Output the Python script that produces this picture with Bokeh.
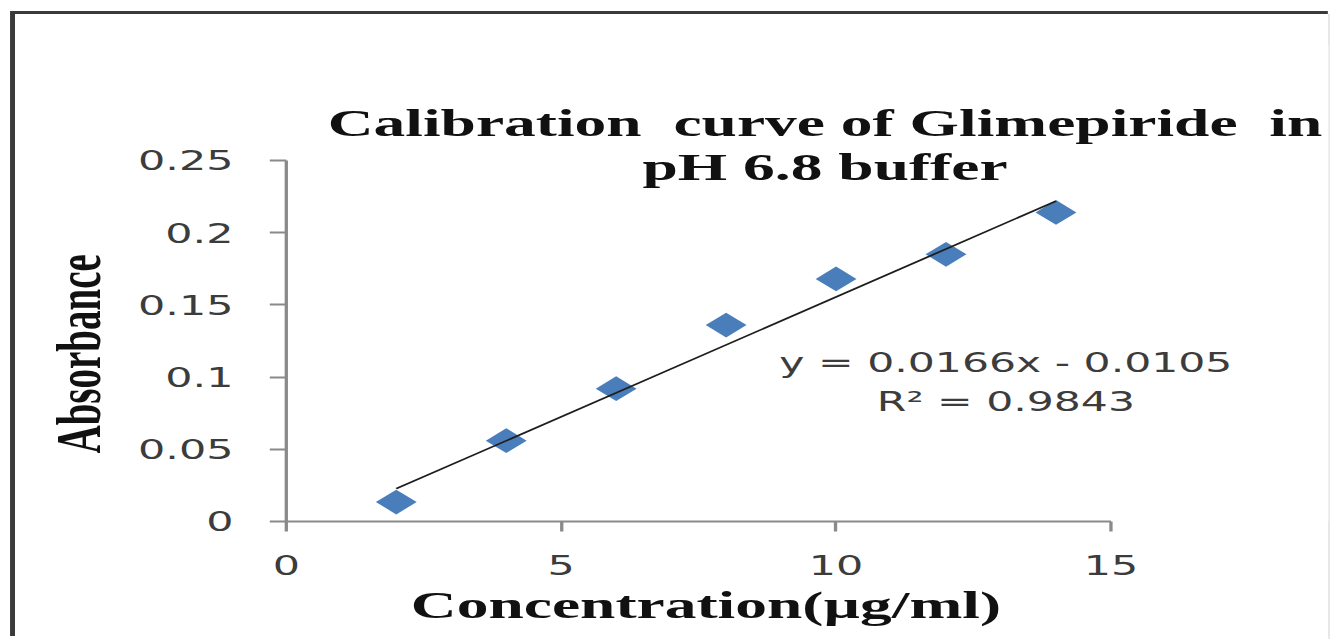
import math

from bokeh.embed import file_html
from bokeh.models import FixedTicker, InlineStyleSheet, Label, Range1d, Title
from bokeh.plotting import figure
from bokeh.resources import INLINE

# Calibration data: concentration (µg/ml) vs. measured absorbance
concentration = [2, 4, 6, 8, 10, 12, 14]
absorbance = [0.0135, 0.056, 0.092, 0.136, 0.168, 0.185, 0.214]

# Least-squares trendline as reported on the chart
slope = 0.0166
intercept = -0.0105
r_squared = 0.9843

x_ticks = [0, 5, 10, 15]
y_ticks = [0, 0.05, 0.1, 0.15, 0.2, 0.25]
y_tick_labels = ["0", "0.05", "0.1", "0.15", "0.2", "0.25"]
x_axis_span = (0, 15)
y_axis_span = (0, 0.25)

title_lines = ["Calibration\u00a0 curve of Glimepiride\u00a0 in", "pH 6.8 buffer"]
x_title = "Concentration(µg/ml)"
y_title = "Absorbance"

# The drawing surface is laid out narrow and widened horizontally
STRETCH = 1.6493
W, H = 796, 625
BORDER_L, BORDER_R, BORDER_T, BORDER_B = 164, 0, 30, 118
AXIS_W_PX, AXIS_H_PX = 500, 361  # pixel length of the drawn axes

SERIF = "Liberation Serif"
SANS = "DejaVu Sans"
AXIS_GREY = "#8a8a8a"
INK = "#111111"
TEXT_GREY = "#3c3c3c"
FRAME = "#3a3a3a"

# Ranges reach past the axes so the title and equation share the plot area
x_end = x_axis_span[1] * (W - BORDER_L - BORDER_R) / AXIS_W_PX
y_end = y_axis_span[1] * (H - BORDER_T - BORDER_B) / AXIS_H_PX

widen = InlineStyleSheet(
    css=(
        ".bk-Canvas {"
        f" transform: scaleX({STRETCH}); transform-origin: 0 0;"
        f" box-shadow: -3px -3px 0 0 {FRAME}, 0 -3px 0 0 {FRAME},"
        " 1px 0 0 0 #d2d2d2; }"
    )
)

p = figure(
    width=W,
    height=H,
    x_range=Range1d(0, x_end),
    y_range=Range1d(0, y_end),
    output_backend="svg",
    toolbar_location=None,
    tools="",
    min_border_left=BORDER_L,
    min_border_right=BORDER_R,
    min_border_top=BORDER_T,
    min_border_bottom=BORDER_B,
    margin=(14, 0, 0, 15),
    background_fill_color="white",
    border_fill_color="white",
    stylesheets=[widen],
)

p.xgrid.visible = False
p.ygrid.visible = False
p.outline_line_color = None

for ax in (p.xaxis[0], p.yaxis[0]):
    ax.axis_line_color = AXIS_GREY
    ax.axis_line_width = 2
    ax.major_tick_line_color = AXIS_GREY
    ax.major_tick_line_width = 2
    ax.major_tick_in = 0
    ax.major_tick_out = 10
    ax.minor_tick_line_color = None
    ax.major_label_text_font = SANS
    ax.major_label_text_font_size = "26px"
    ax.major_label_text_color = TEXT_GREY

p.xaxis.bounds = x_axis_span
p.yaxis.bounds = y_axis_span
p.xaxis.ticker = FixedTicker(ticks=x_ticks)
p.yaxis.ticker = FixedTicker(ticks=y_ticks)
p.yaxis.major_label_overrides = dict(zip(y_ticks, y_tick_labels))
p.xaxis.major_label_standoff = 24
p.yaxis.major_label_standoff = 22

# Axis titles
p.add_layout(
    Title(
        text=x_title,
        align="left",
        offset=75.5,
        standoff=7,
        text_font=SERIF,
        text_font_style="bold",
        text_font_size="38.5px",
        text_color=INK,
    ),
    "below",
)
p.add_layout(
    Title(
        text=y_title,
        align="left",
        offset=68,
        standoff=24,
        text_font=SERIF,
        text_font_style="bold",
        text_font_size="39px",
        text_color=INK,
    ),
    "left",
)

# Measured points (diamonds)
p.scatter(
    concentration,
    absorbance,
    marker="square",
    size=17.5,
    angle=math.pi / 4,
    fill_color="#4a7ebb",
    line_color=None,
)

# Linear trendline across the measured concentration span
fit_x = [min(concentration), max(concentration)]
fit_y = [slope * x + intercept for x in fit_x]
p.line(fit_x, fit_y, line_color="#1e1e1e", line_width=1.6)

# Chart title, two centred lines
for text, y in zip(title_lines, [0.276, 0.2455]):
    p.add_layout(
        Label(
            x=9.80,
            y=y,
            text=text,
            text_align="center",
            text_baseline="alphabetic",
            text_font=SERIF,
            text_font_style="bold",
            text_font_size="38.5px",
            text_color=INK,
        )
    )

# Trendline equation and coefficient of determination
sign = "-" if intercept < 0 else "+"
eq_lines = [f"y = {slope}x {sign} {abs(intercept)}", f"R\u00b2 = {r_squared}"]
for text, y in zip(eq_lines, [0.1098, 0.0828]):
    p.add_layout(
        Label(
            x=13.09,
            y=y,
            text=text,
            text_align="center",
            text_baseline="alphabetic",
            text_font=SANS,
            text_font_size="25.8px",
            text_color=TEXT_GREY,
        )
    )

open("out.html", "w").write(file_html(p, INLINE))
